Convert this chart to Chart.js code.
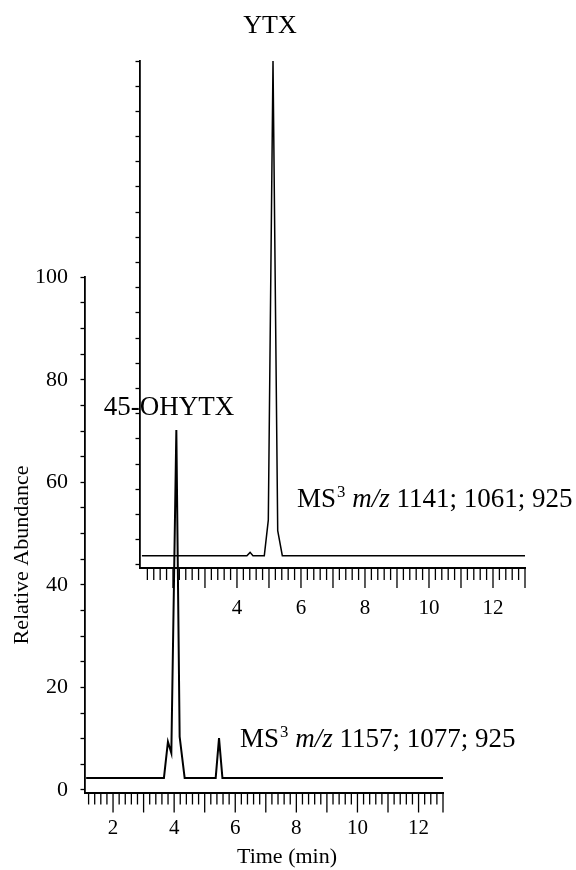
<!DOCTYPE html>
<html><head><meta charset="utf-8">
<script src="https://cdn.jsdelivr.net/npm/chart.js@4.4.1/dist/chart.umd.min.js"></script>
<style>
html,body{margin:0;padding:0;background:#fff;}
#wrap{position:relative;width:576px;height:870px;background:#fff;}
canvas{position:absolute;left:0;top:0;}
</style></head><body>
<div id="wrap"><canvas id="main" width="576" height="870"></canvas><canvas id="inset" width="576" height="870"></canvas></div>
<script>
// ---- data ----
const mainTime      = [1.12, 3.666, 3.797, 3.908, 4.072, 4.18, 4.344, 5.36, 5.469, 5.58, 12.8];
const mainAbundance = [2.34, 2.34, 9.4, 7.2, 70.2, 10.4, 2.34, 2.34, 10.1, 2.34, 2.34];
const insetTime      = [1.03, 4.31, 4.41, 4.50, 4.854, 4.979, 5.126, 5.273, 5.417, 13.0];
const insetAbundance = [1.85, 1.85, 2.5, 1.85, 1.85, 8.9, 100, 6.8, 1.85, 1.85];
const mainXTickLabels  = [2, 4, 6, 8, 10, 12];
const mainYTickLabels  = [0, 20, 40, 60, 80, 100];
const insetXTickLabels = [4, 6, 8, 10, 12];
const mainPeakName  = '45-OHYTX';
const insetPeakName = 'YTX';
const mainTransition  = '1157; 1077; 925';
const insetTransition = '1141; 1061; 925';
const xTitle = 'Time (min)';
const yTitle = 'Relative Abundance';

const FF = '"Liberation Serif", "Times New Roman", serif';
Chart.defaults.font.family = FF;
Chart.defaults.color = '#000';

function isInt(v){ return Math.abs(v - Math.round(v)) < 1e-6; }

const xTickPlugin = {
  id: 'xTickMarks',
  afterDraw(chart) {
    const s = chart.scales.x, ctx = chart.ctx;
    ctx.save();
    ctx.strokeStyle = '#000'; ctx.lineWidth = 1.3;
    s.ticks.forEach(t => {
      const px = s.getPixelForValue(t.value);
      if (px < s.left + 3) return;
      const len = (isInt(t.value) || Math.abs(t.value - s.max) < 1e-6) ? 20 : 12;
      ctx.beginPath(); ctx.moveTo(px, s.top); ctx.lineTo(px, s.top + len); ctx.stroke();
    });
    ctx.restore();
  }
};

function drawMS(ctx, x, y, size, masses) {
  ctx.textAlign = 'left'; ctx.textBaseline = 'alphabetic';
  ctx.font = size + 'px ' + FF; ctx.fillText('MS', x, y); x += ctx.measureText('MS').width;
  ctx.font = (size * 0.62) + 'px ' + FF; ctx.fillText('3', x + 1, y - size * 0.36); x += ctx.measureText('3').width + 1;
  ctx.font = size + 'px ' + FF; x += ctx.measureText(' ').width;
  ctx.font = 'italic ' + size + 'px ' + FF; ctx.fillText('m/z', x, y); x += ctx.measureText('m/z').width;
  ctx.font = size + 'px ' + FF; ctx.fillText(' ' + masses, x, y);
}

const textPlugin = {
  id: 'texts',
  afterDraw(chart) {
    const ctx = chart.ctx;
    ctx.save();
    ctx.fillStyle = '#000';
    ctx.textBaseline = 'alphabetic';
    ctx.textAlign = 'center';
    ctx.font = '26px ' + FF; ctx.fillText(insetPeakName, 270, 33);
    ctx.font = '27px ' + FF; ctx.fillText(mainPeakName, 169, 415);
    drawMS(ctx, 297, 507, 27, insetTransition);
    drawMS(ctx, 240, 747, 27, mainTransition);
    ctx.textAlign = 'center';
    ctx.font = '22px ' + FF; ctx.fillText(xTitle, 287, 863);
    ctx.translate(28, 555); ctx.rotate(-Math.PI / 2);
    ctx.font = '22px ' + FF; ctx.fillText(yTitle, 0, 0);
    ctx.restore();
  }
};

function pts(xs, ys){ return xs.map((t, i) => ({x: t, y: ys[i]})); }

new Chart(document.getElementById('main'), {
  type: 'line',
  data: { datasets: [{ data: pts(mainTime, mainAbundance), borderColor: '#000', borderWidth: 2, pointRadius: 0, tension: 0, fill: false }] },
  options: {
    responsive: false, maintainAspectRatio: false, animation: false,
    layout: { padding: { left: 0, top: 277.3, right: 133, bottom: 0 } },
    plugins: { legend: { display: false }, tooltip: { enabled: false } },
    scales: {
      x: {
        type: 'linear', min: 1.066, max: 12.8,
        afterFit: s => { s.height = 77.5; },
        border: { display: true, color: '#000', width: 2 },
        grid: { display: true, drawOnChartArea: false, drawTicks: false },
        ticks: { stepSize: 0.2, includeBounds: false, autoSkip: false, maxRotation: 0, padding: 23,
                 font: { size: 21 }, color: '#000',
                 callback: v => mainXTickLabels.some(l => Math.abs(l - v) < 1e-6) ? String(Math.round(v)) : '' }
      },
      y: {
        min: -0.5, max: 100,
        afterFit: s => { s.width = 84.5; },
        border: { display: true, color: '#000', width: 1.8 },
        grid: { display: true, drawOnChartArea: false, drawTicks: true, tickLength: 4, tickColor: '#000', tickWidth: 1.3 },
        ticks: { stepSize: 5, includeBounds: false, autoSkip: false, padding: 12.5, font: { size: 22 }, color: '#000',
                 callback: v => mainYTickLabels.includes(v) ? String(v) : '' }
      }
    }
  },
  plugins: [xTickPlugin]
});

new Chart(document.getElementById('inset'), {
  type: 'line',
  data: { datasets: [{ data: pts(insetTime, insetAbundance), borderColor: '#000', borderWidth: 1.5, pointRadius: 0, tension: 0, fill: false }] },
  options: {
    responsive: false, maintainAspectRatio: false, animation: false,
    layout: { padding: { left: 0, top: 61, right: 51, bottom: 252 } },
    plugins: { legend: { display: false }, tooltip: { enabled: false } },
    scales: {
      x: {
        type: 'linear', min: 0.97, max: 13.0,
        afterFit: s => { s.height = 50; },
        border: { display: true, color: '#000', width: 2 },
        grid: { display: true, drawOnChartArea: false, drawTicks: false },
        ticks: { stepSize: 0.2, includeBounds: false, autoSkip: false, maxRotation: 0, padding: 28,
                 font: { size: 21 }, color: '#000',
                 callback: v => insetXTickLabels.some(l => Math.abs(l - v) < 1e-6) ? String(Math.round(v)) : '' }
      },
      y: {
        min: -0.6, max: 100,
        afterFit: s => { s.width = 140; },
        border: { display: true, color: '#000', width: 1.8 },
        grid: { display: true, drawOnChartArea: false, drawTicks: true, tickLength: 4.5, tickColor: '#000', tickWidth: 1.3 },
        ticks: { stepSize: 5, includeBounds: false, autoSkip: false, display: false }
      }
    }
  },
  plugins: [xTickPlugin, textPlugin]
});
</script>
</body></html>
